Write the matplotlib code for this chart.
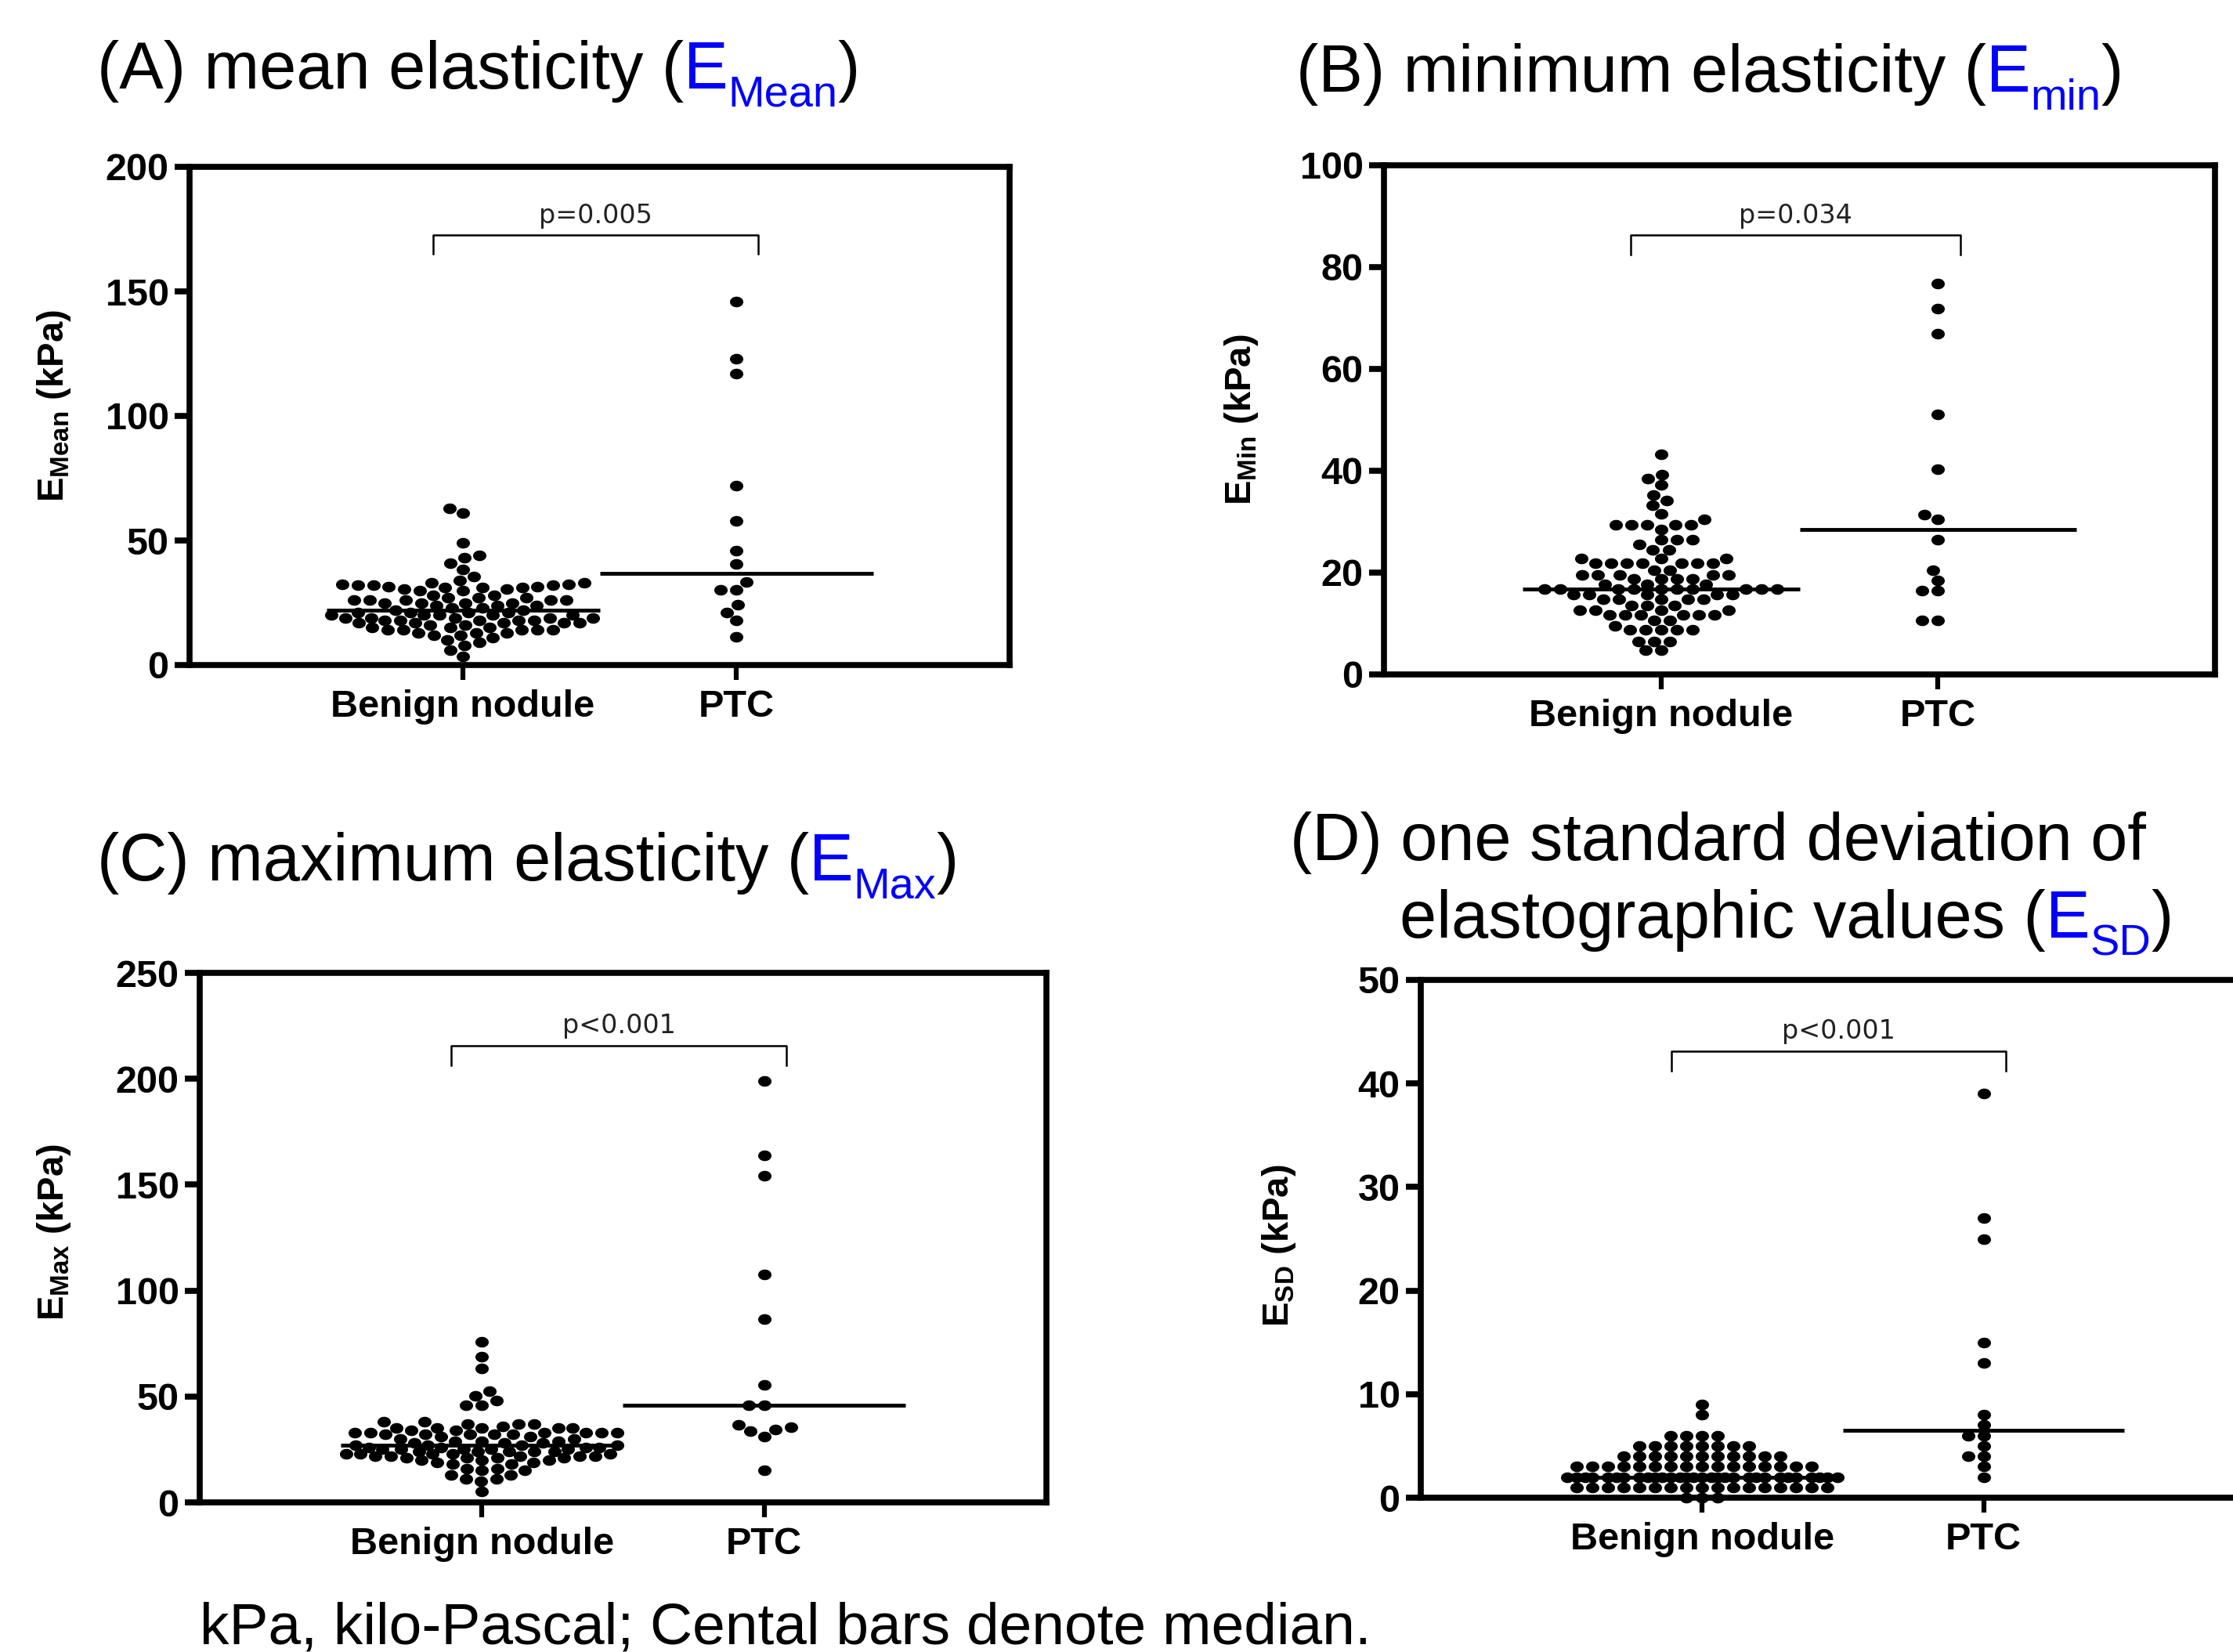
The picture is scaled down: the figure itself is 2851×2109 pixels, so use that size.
import numpy as np
import matplotlib
matplotlib.use("Agg")
import matplotlib.pyplot as plt
from matplotlib.path import Path

plt.rcParams['font.family'] = ['Liberation Sans', 'DejaVu Sans']
plt.rcParams['mathtext.default'] = 'regular'

W, H, DPI = 2851, 2109, 100
BLUE = '#0000ff'

groups = ["Benign nodule", "PTC"]

# (A) mean elasticity, kPa
a_benign = [63, 61, 49, 44, 43, 41, 38.5, 35.6, 34,
            33, 33, 32.5, 32.5, 32, 32, 32, 31.5, 31.5, 31, 31, 31, 30.5, 30.5, 30, 30,
            28, 28, 27, 27, 27, 26, 26, 26, 26, 26, 25, 25, 25, 25, 24, 24, 24, 23, 23, 22, 22,
            21, 21, 21, 21, 20, 20, 20, 20, 20, 19, 19, 19, 19, 19, 18, 18, 18, 18, 18,
            17, 17, 17, 17, 17,
            16, 16, 15, 15, 15, 14, 14, 14, 14, 14, 13, 13, 13, 12, 12,
            11, 10, 9, 8, 6, 3.5]
a_ptc = [146, 123, 117, 72, 58, 46, 40.6, 33.2, 30.1, 30.1, 24.1, 21.2, 18, 11.2]

# (B) minimum elasticity, kPa
b_benign = [43.3, 39.3, 38.4, 37.3, 35.3, 34.2, 33.3, 31.6, 30.4,
            29.4, 29.4, 29.4, 29.4, 29.4, 28.5, 26.5, 26.5, 26.5, 25.6, 24.5, 24.5,
            22.8, 22.8, 22.8, 21.8, 21.8, 21.8, 21.8, 21.8, 21.8, 21.8, 20.5, 20.5,
            19.5, 19.5, 19.5, 19.5, 19.5, 18.7, 18.7, 18.7, 18.7, 17.7, 17.7, 17.7,
            16.7, 16.7, 16.7, 16.7, 16.7, 16.7, 16.7, 16.7, 16.7, 16.7,
            15.7, 15.7, 15.7, 15.7, 15.7, 14.7, 14.7, 14.7, 14.7, 14.7,
            13.6, 13.6, 13.6, 12.6, 12.6, 12.6, 12.6, 11.7, 11.7, 11.7, 11.7, 11.7, 11.7,
            10.6, 10.6, 9.6, 8.8, 8.8, 8.8, 8.8, 8.8, 6.5, 6.5, 6.5, 4.7, 4.7]
b_ptc = [76.8, 71.9, 66.9, 51.1, 40.3, 31.4, 30.4, 26.5, 20.4, 18.5, 16.5, 16.5, 10.6, 10.6]

# (C) maximum elasticity, kPa
c_benign = [75.7, 68.9, 63.4, 52.5, 50.4, 48, 46, 46,
            38, 38, 37, 37, 37,
            36, 35, 35, 35, 35, 35, 34,
            34, 33, 33, 33, 33, 33, 33, 32, 32, 32, 32, 32,
            31, 31, 30, 30, 29, 29, 29, 28, 28, 28, 27, 27, 27, 27,
            26, 26, 26, 26, 25, 25, 25, 25, 25, 24, 24, 24, 24, 24,
            23, 23, 23, 23, 23, 22, 22, 22, 22, 22, 21, 21, 21, 21,
            20, 20, 20, 19, 19, 18, 18, 16, 16, 15, 15, 13, 13, 11, 11, 10, 5.2]
c_ptc = [198.8, 163.8, 154.3, 107.7, 86.6, 55.5, 46, 46, 36.5, 35.5, 34.4, 33.5, 31.1, 15.2]

# (D) one standard deviation of elastographic values, kPa
d_benign = [9, 8, 6, 6, 6, 6, 5, 5, 5, 5, 5, 5, 5, 5,
            4, 4, 4, 4, 4, 4, 4, 4, 4, 4, 4,
            3, 3, 3, 3, 3, 3, 3, 3, 3, 3, 3, 3, 3, 3, 3, 3,
            2, 2, 2, 2, 2, 2, 2, 2, 2, 2, 2, 2, 2, 2, 2, 2, 2, 2, 2, 2,
            2, 2, 2, 2, 2, 2, 2, 2, 2, 2,
            1, 1, 1, 1, 1, 1, 1, 1, 1, 1, 1, 1, 1, 1, 1, 1, 1,
            0, 0, 0]
d_ptc = [39, 27, 25, 15, 13, 8, 7, 6, 6, 5, 4, 4, 3, 2]

panels = [
    dict(rect=(242, 213, 1289, 849), benign=a_benign, ptc=a_ptc, ymax=200, step=50,
         ylabel="E$_{Mean}$ (kPa)", lab=(-0.165, 0.52), p="p=0.005"),
    dict(rect=(1767, 211, 2828, 861), benign=b_benign, ptc=b_ptc, ymax=100, step=20,
         ylabel="E$_{Min}$ (kPa)", lab=(-0.172, 0.50), p="p=0.034"),
    dict(rect=(255, 1242, 1336, 1918), benign=c_benign, ptc=c_ptc, ymax=250, step=50,
         ylabel="E$_{Max}$ (kPa)", lab=(-0.172, 0.51), p="p<0.001"),
    dict(rect=(1814, 1251, 2892, 1912), benign=d_benign, ptc=d_ptc, ymax=50, step=10,
         ylabel="E$_{SD}$ (kPa)", lab=(-0.168, 0.486), p="p<0.001"),
]

# slightly wide elliptical dot like the original export
t = np.linspace(0, 2 * np.pi, 48)
dot = Path(np.column_stack([1.25 * np.cos(t), np.sin(t)]), closed=True)


def swarm(ax, xc, vals, gap_x=20.0, gap_y=13.0, half=0.48):
    """GraphPad-like column scatter: spread points sideways so they don't overlap."""
    vals = np.asarray(vals, float)
    x0 = ax.transData.transform((xc, 0))[0]
    half_px = ax.transData.transform((xc + half, 0))[0] - x0
    ypx = ax.transData.transform(np.column_stack([np.full(len(vals), xc), vals]))[:, 1]
    px_list, py_list = [], []
    out = np.zeros(len(vals))
    for i in np.argsort(ypx, kind='stable'):
        y = ypx[i]
        px, py = np.array(px_list), np.array(py_list)
        near = np.abs(py - y) < gap_y if len(py) else np.zeros(0, bool)
        pxn, pyn = px[near], py[near]
        h = gap_x * np.sqrt(1 - ((pyn - y) / gap_y) ** 2)
        cands = np.concatenate([[0.0], pxn + h, pxn - h])
        cands = cands[np.abs(cands) <= half_px + 1e-6]
        best = None
        for c in sorted(cands, key=lambda c: (round(abs(c), 6), c)):
            if np.all(((pxn - c) / gap_x) ** 2 + ((pyn - y) / gap_y) ** 2 >= 1 - 1e-6):
                best = c
                break
        if best is None:
            # no room left: squeeze in where the overlap is smallest
            grid = np.linspace(-half_px, half_px, 61)
            score = [np.min(((pxn - g) / gap_x) ** 2 + ((pyn - y) / gap_y) ** 2) for g in grid]
            best = grid[int(np.argmax(np.round(score, 6) - 1e-9 * np.abs(grid)))]
        px_list.append(best)
        py_list.append(y)
        out[i] = best
    return xc + out * half / half_px


def rich_text(fig, x_px, base_px, parts, size):
    # parts: (text, colour, is_subscript); chained left to right on one baseline
    r = fig.canvas.get_renderer()
    x = x_px
    for s, color, sub in parts:
        fs = size * 0.66 if sub else size
        y = base_px + (0.27 * size * DPI / 72 if sub else 0)
        txt = fig.text(x / W, 1 - y / H, s, fontsize=fs, color=color,
                       ha='left', va='baseline')
        x = txt.get_window_extent(r).x1


fig = plt.figure(figsize=(W / DPI, H / DPI), dpi=DPI)

for p in panels:
    l, tp, r, b = p['rect']
    ax = fig.add_axes([l / W, 1 - b / H, (r - l) / W, (b - tp) / H])
    ax.set_xlim(-1, 2)
    ax.set_ylim(0, p['ymax'])
    for sp in ax.spines.values():
        sp.set_linewidth(5.5)
    ax.set_yticks(np.arange(0, p['ymax'] + 1, p['step']))
    ax.set_xticks([0, 1], groups)
    ax.tick_params(axis='y', length=14, width=5.5, pad=5, labelsize=35)
    ax.tick_params(axis='x', length=14, width=4.5, pad=8, labelsize=35)
    plt.setp(ax.get_yticklabels() + ax.get_xticklabels(), fontweight='bold')
    ax.set_ylabel(p['ylabel'], fontsize=34, fontweight='bold', va='center')
    ax.yaxis.set_label_coords(*p['lab'])

    for xc, vals in ((0, p['benign']), (1, p['ptc'])):
        xs = swarm(ax, xc, vals)
        ax.scatter(xs, vals, s=150, marker=dot, color='black', linewidths=0,
                   zorder=3, clip_on=False)
        med = np.median(vals)
        ax.hlines(med, xc - 0.5, xc + 0.5, color='black', lw=3.5, zorder=4)

    yb = 0.863 * p['ymax']
    leg = 0.038 * p['ymax']
    ax.plot([-0.11, -0.11, 1.08, 1.08], [yb - leg, yb, yb, yb - leg],
            color='black', lw=1.8)
    ax.annotate(p['p'], (0.485, yb), xytext=(0, 6), textcoords='offset points',
                ha='center', va='bottom', fontsize=24, family='DejaVu Sans',
                color='#222222')

rich_text(fig, 124, 113, [("(A) mean elasticity (", 'black', False), ("E", BLUE, False),
                          ("Mean", BLUE, True), (")", 'black', False)], 61)
rich_text(fig, 1655, 117, [("(B) minimum elasticity (", 'black', False), ("E", BLUE, False),
                           ("min", BLUE, True), (")", 'black', False)], 61)
rich_text(fig, 124, 1124, [("(C) maximum elasticity (", 'black', False), ("E", BLUE, False),
                           ("Max", BLUE, True), (")", 'black', False)], 61)
rich_text(fig, 1647, 1098, [("(D) one standard deviation of", 'black', False)], 61)
rich_text(fig, 1787, 1197, [("elastographic values (", 'black', False), ("E", BLUE, False),
                            ("SD", BLUE, True), (")", 'black', False)], 61)

fig.text(255 / W, 1 - 2098 / H, "kPa, kilo-Pascal; Cental bars denote median.",
         fontsize=54, ha='left', va='baseline')

fig.savefig("out.png", dpi=DPI)
